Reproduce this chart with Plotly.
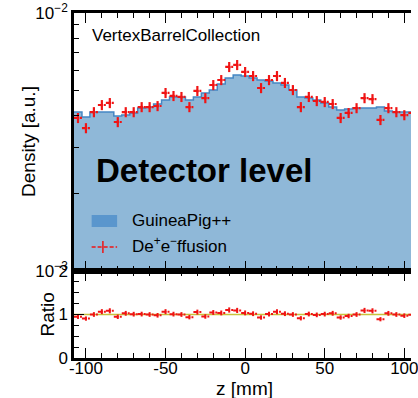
import numpy as np
import plotly.graph_objects as go

# ---- data ----
bin_centers = [-105, -100, -95, -90, -85, -80, -75, -70, -65, -60, -55, -50, -45, -40, -35,
               -30, -25, -20, -15, -10, -5, 0, 5, 10, 15, 20, 25, 30, 35, 40, 45, 50, 55,
               60, 65, 70, 75, 80, 85, 90, 95, 100, 105]
bin_width = 5.0

guineapig = [4.13, 3.95, 4.13, 4.13, 4.13, 3.99, 4.02, 4.10, 4.28, 4.32, 4.44, 4.60, 4.73, 4.73, 4.60,
             4.73, 4.90, 5.03, 5.31, 5.60, 5.75, 5.70, 5.60, 5.50, 5.45, 5.36, 5.26, 5.03, 4.73, 4.68,
             4.60, 4.48, 4.32, 4.21, 4.25, 4.28, 4.28, 4.28, 4.32, 4.17, 4.13, 4.13, 4.13]  # x1e-3
deffusion = [3.92, 3.58, 4.13, 4.40, 4.48, 3.78, 4.13, 4.13, 4.32, 4.32, 4.36, 4.90, 4.77, 4.73, 4.32,
             4.99, 4.68, 5.26, 5.50, 6.18, 6.29, 5.91, 5.70, 5.12, 5.50, 5.70, 5.36, 5.03, 4.32, 4.73,
             4.56, 4.52, 4.44, 3.92, 4.10, 4.28, 4.68, 4.64, 3.85, 4.28, 4.13, 4.02, 4.10]  # x1e-3
rel_err = 0.045

x_ticks = [-100, -50, 0, 50, 100]
ratio_ticks = [0, 1, 2]

# ---- derived ----
c = np.array(bin_centers, float)
gp = np.array(guineapig) * 1e-3
de = np.array(deffusion) * 1e-3
edges = np.concatenate([c - bin_width / 2, [c[-1] + bin_width / 2]])
ratio = de / gp
ratio_err = ratio * rel_err * 1.2

RED = "rgb(240,20,20)"
FILL = "rgb(143,184,216)"
LINE = "rgb(70,135,195)"
FONT = "Liberation Sans"

def hsegs(vals):
    xs, ys = [], []
    for ci, v in zip(c, vals):
        xs += [ci - bin_width / 2, ci + bin_width / 2, None]
        ys += [v, v, None]
    return xs, ys

fig = go.Figure()
# top panel
fig.add_trace(go.Bar(x=c, y=gp, width=bin_width, marker=dict(color=FILL, line=dict(width=0)),
                     xaxis="x", yaxis="y", showlegend=False))
fig.add_trace(go.Scatter(x=edges, y=np.append(gp, gp[-1]), mode="lines", line=dict(shape="hv", color=LINE, width=1.5),
                         xaxis="x", yaxis="y", showlegend=False))
hx, hy = hsegs(de)
fig.add_trace(go.Scatter(x=hx, y=hy, mode="lines", line=dict(color=RED, width=2.2, dash="4px,2px"),
                         xaxis="x", yaxis="y", showlegend=False, connectgaps=False))
fig.add_trace(go.Scatter(x=c, y=de, mode="markers", marker=dict(color=RED, size=3),
                         error_y=dict(type="data", array=de * rel_err, color=RED, thickness=2.2, width=0),
                         xaxis="x", yaxis="y", showlegend=False))
# ratio panel
fig.add_trace(go.Scatter(x=[edges[0], edges[-1]], y=[1, 1], mode="lines",
                         line=dict(color="rgb(200,195,60)", width=1.5),
                         xaxis="x2", yaxis="y2", showlegend=False))
rx, ry = hsegs(ratio)
fig.add_trace(go.Scatter(x=rx, y=ry, mode="lines", line=dict(color=RED, width=2, dash="4px,2px"),
                         xaxis="x2", yaxis="y2", showlegend=False, connectgaps=False))
fig.add_trace(go.Scatter(x=c, y=ratio, mode="markers", marker=dict(color=RED, size=2),
                         error_y=dict(type="data", array=ratio_err, color=RED, thickness=2, width=0),
                         xaxis="x2", yaxis="y2", showlegend=False))

W, H = 418, 398
ml, mr, mt, mb = 74, 0, 13, 40
pw = W - ml - mr
ph = H - mt - mb
px_per_mm = 1.625
xr = [-107.5, -107.5 + pw / px_per_mm]
split = (358 - 271) / ph

def px(xp):
    return (xp - ml) / pw

def py(yp):
    return (358 - yp) / ph

def axis_common(mirror):
    return dict(showline=True, linewidth=2.5, linecolor="black", mirror=mirror,
                ticks="inside", ticklen=10, tickwidth=1, tickcolor="black",
                showgrid=False, zeroline=False,
                tickfont=dict(family=FONT, size=17, color="black"))

fig.update_layout(
    width=W, height=H, margin=dict(l=ml, r=mr, t=mt, b=mb),
    paper_bgcolor="white", plot_bgcolor="white", bargap=0,
    xaxis=dict(domain=[0, 1], range=xr, anchor="y", tickvals=x_ticks, showticklabels=False,
               minor=dict(dtick=10, tick0=0, ticklen=5, ticks="inside", tickcolor="black"),
               **axis_common("allticks")),
    yaxis=dict(domain=[split, 1], type="log", range=[-3, -2], anchor="x",
               tickvals=[1e-3, 1e-2], ticktext=["10<sup>\u22123</sup>", "10<sup>\u22122</sup>"],
               minor=dict(tickvals=[k * 1e-3 for k in range(2, 10)], ticklen=5, ticks="inside", tickcolor="black"),
               **axis_common(False)),
    xaxis2=dict(domain=[0, 1], range=xr, anchor="y2", tickvals=x_ticks,
                ticktext=[str(t) for t in x_ticks], ticklabeloverflow="allow", ticklabelstandoff=-7,
                minor=dict(dtick=10, tick0=0, ticklen=5, ticks="inside", tickcolor="black"),
                **axis_common("allticks")),
    yaxis2=dict(domain=[0, split], range=[0, 2], anchor="x2", tickvals=ratio_ticks,
                minor=dict(dtick=0.25, tick0=0, ticklen=5, ticks="inside", tickcolor="black"),
                **axis_common(False)),
)

ann_font = dict(family=FONT, color="black")
fig.add_annotation(text="VertexBarrelCollection", x=px(90), y=py(35), xref="paper", yref="paper",
                   xanchor="left", yanchor="middle", showarrow=False, font=dict(size=17, **ann_font))
fig.add_annotation(text="<b>Detector level</b>", x=px(94), y=py(170), xref="paper", yref="paper",
                   xanchor="left", yanchor="middle", showarrow=False, font=dict(size=33, **ann_font))
fig.add_annotation(text="GuineaPig++", x=px(131), y=py(221), xref="paper", yref="paper",
                   xanchor="left", yanchor="middle", showarrow=False, font=dict(size=17, **ann_font))
fig.add_annotation(text="De<sup>+</sup>e<sup>\u2212</sup>ffusion", x=px(131), y=py(245), xref="paper", yref="paper",
                   xanchor="left", yanchor="middle", showarrow=False, font=dict(size=17, **ann_font))
fig.add_annotation(text="Density [a.u.]", x=px(27), y=py(141), xref="paper", yref="paper", textangle=-90,
                   xanchor="center", yanchor="middle", showarrow=False, font=dict(size=19, **ann_font))
fig.add_annotation(text="Ratio", x=px(46), y=py(315), xref="paper", yref="paper", textangle=-90,
                   xanchor="center", yanchor="middle", showarrow=False, font=dict(size=19, **ann_font))
fig.add_annotation(text="z [mm]", x=px(248), y=py(388), xref="paper", yref="paper",
                   xanchor="center", yanchor="middle", showarrow=False, font=dict(size=19, **ann_font))

# legend symbols
fig.add_shape(type="rect", xref="paper", yref="paper", x0=px(92), x1=px(118), y0=py(227), y1=py(215),
              fillcolor="rgb(90,150,205)", line=dict(width=0))
fig.add_shape(type="line", xref="paper", yref="paper", x0=px(92), x1=px(118), y0=py(247), y1=py(247),
              line=dict(color=RED, width=1.5, dash="4px,2px"))
fig.add_shape(type="line", xref="paper", yref="paper", x0=px(103.5), x1=px(103.5), y0=py(253), y1=py(241),
              line=dict(color=RED, width=1.5))

fig.write_html("out.html")
